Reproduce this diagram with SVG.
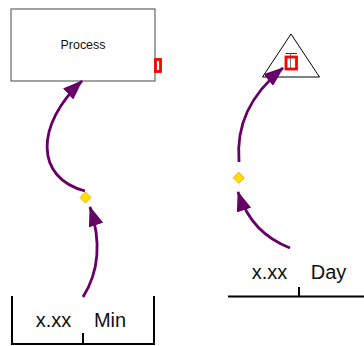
<svg xmlns="http://www.w3.org/2000/svg" width="364" height="346" viewBox="0 0 364 346">
<style>
.lbl{font-family:"Liberation Sans",Arial,sans-serif;fill:#111}
.big{font-size:20px}
.conn{fill:none;stroke:#660066;stroke-width:2.8}
.dia{fill:#FFE000;stroke:#FFA500;stroke-width:1}
.bar{fill:none;stroke:#000;stroke-width:2}
.red{fill:none;stroke:#FF0000;stroke-width:2.8}
</style>
<defs>
<marker id="ah" viewBox="0 0 20 15" refX="19" refY="7.5" markerWidth="20" markerHeight="15" markerUnits="userSpaceOnUse" orient="auto">
<path d="M0,0 L20,7.5 L0,15 z" fill="#660066"/>
</marker>
</defs>
<rect width="364" height="346" fill="#fff"/>
<g id="process">
<rect x="11" y="9" width="144" height="72" fill="#fff" stroke="#666" stroke-width="1.2"/>
<text class="lbl" x="83" y="49.5" font-size="13.5" text-anchor="middle" transform="translate(83 0) scale(0.92 1) translate(-83 0)">Process</text>
<rect class="red" x="155.5" y="59.5" width="5" height="12" stroke-width="2"/>
</g>
<g id="sink">
<path d="M291,34 L262.5,77 L319.5,77 Z" fill="#fff" stroke="#000" stroke-width="1"/>
<line x1="285.5" y1="53.5" x2="297" y2="53.5" stroke="#333" stroke-width="1"/>
<line x1="290.5" y1="53.5" x2="290.5" y2="69" stroke="#777" stroke-width="1"/>
<rect class="red" x="286" y="57" width="10.5" height="12"/>
</g>
<g id="diamond1"><path class="dia" d="M85.5,192 L91,197.5 L85.5,203 L80,197.5 Z"/></g>
<g id="diamond2"><path class="dia" d="M238.8,172.3 L244.3,177.8 L238.8,183.3 L233.3,177.8 Z"/></g>
<g id="timeMin">
<path class="bar" d="M12,296 V344 H154 V296 M83,333 V344"/>
<text class="lbl big" x="53.5" y="327" text-anchor="middle">x.xx</text>
<text class="lbl big" x="110" y="327" text-anchor="middle">Min</text>
</g>
<g id="timeDay">
<path class="bar" d="M228,296.5 H364 M299,287 V296.5"/>
<text class="lbl big" x="269.5" y="279" text-anchor="middle">x.xx</text>
<text class="lbl big" x="328.5" y="279" text-anchor="middle">Day</text>
</g>
<g id="connectors">
<path class="conn" d="M85,191 C35,178 35,125 82,81" marker-end="url(#ah)"/>
<path class="conn" d="M83,297 C100,270 101,240 90,207" marker-end="url(#ah)"/>
<path class="conn" d="M290,248 C265,238 248,222 238,192" marker-end="url(#ah)"/>
<path class="conn" d="M239,162 C236,125 250,95 283,68" marker-end="url(#ah)"/>
</g>
</svg>
